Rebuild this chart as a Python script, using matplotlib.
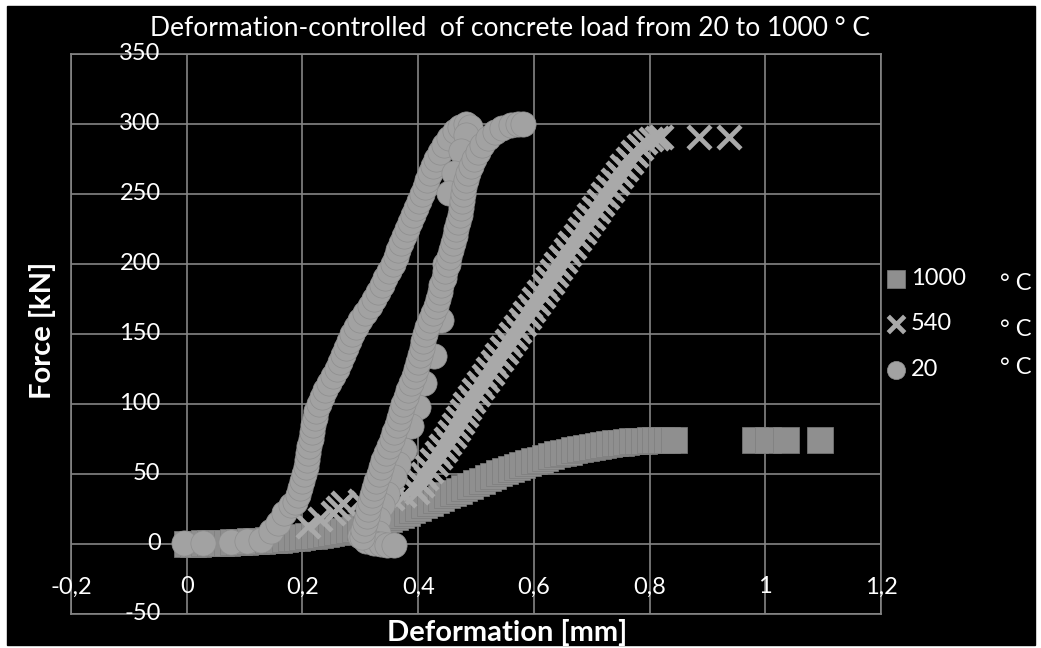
import matplotlib
matplotlib.use("Agg")
import matplotlib.pyplot as plt
from matplotlib.patches import Rectangle

plt.rcParams['font.family'] = ['Lato', 'DejaVu Sans']

# ---- data: deformation [mm] / force [kN] ----
# 20 C: initial seating, first loading, unloading, reloading
x_20 = [-0.005, 0.028, 0.076, 0.105, 0.128, 0.145, 0.157, 0.168, 0.180,
        0.188, 0.192, 0.196, 0.200, 0.203, 0.206, 0.208, 0.210, 0.212, 0.214,
        0.216, 0.218, 0.221, 0.224, 0.228, 0.233, 0.239, 0.246, 0.253, 0.259,
        0.265, 0.270, 0.275, 0.280, 0.285, 0.292, 0.300, 0.308, 0.316, 0.323,
        0.330, 0.337, 0.343, 0.350, 0.356, 0.361, 0.366, 0.371, 0.376, 0.381,
        0.386, 0.391, 0.396, 0.401, 0.406, 0.411, 0.416, 0.421, 0.426, 0.431,
        0.437, 0.445, 0.453, 0.463, 0.473, 0.483,
        0.490, 0.482, 0.474, 0.462, 0.453, 0.447, 0.440, 0.427, 0.410, 0.399,
        0.387, 0.375, 0.365, 0.358, 0.347, 0.338, 0.330, 0.330, 0.300, 0.310,
        0.323, 0.335, 0.347, 0.358,
        0.303, 0.305, 0.308, 0.311, 0.314, 0.317, 0.320, 0.324, 0.328, 0.332,
        0.336, 0.340, 0.345, 0.350, 0.355, 0.359, 0.363, 0.367, 0.371, 0.374,
        0.379, 0.383, 0.388, 0.392, 0.396, 0.400, 0.404, 0.407, 0.409, 0.411,
        0.415, 0.420, 0.426, 0.430, 0.434, 0.437, 0.440, 0.444, 0.447, 0.451,
        0.454, 0.457, 0.460, 0.463, 0.466, 0.469, 0.472, 0.474, 0.476, 0.478,
        0.480, 0.483, 0.487, 0.492, 0.497, 0.503, 0.510, 0.520, 0.532, 0.545,
        0.560, 0.572, 0.581]
f_20 = [1, 1, 1.5, 2, 3, 9, 15, 22, 28,
        30, 35, 40, 45, 50, 55, 60, 65, 70, 75,
        80, 85, 90, 95, 100, 105, 110, 115, 120, 125,
        130, 135, 140, 145, 150, 155, 160, 165, 170, 175,
        180, 185, 190, 195, 200, 205, 210, 215, 220, 225,
        230, 235, 240, 245, 250, 255, 260, 265, 270, 275,
        280, 285, 290, 295, 298, 300,
        298, 292, 281, 265, 251, 200, 160, 134, 115, 98,
        84, 67, 57, 48, 36, 28, 18, 8, 6, 2,
        1, 0, -1, -1,
        5, 10, 15, 20, 25, 30, 35, 40, 45, 50,
        55, 60, 65, 70, 75, 80, 85, 90, 95, 100,
        105, 110, 115, 120, 125, 130, 135, 140, 145, 150,
        155, 160, 165, 170, 175, 180, 185, 190, 195, 200,
        205, 210, 215, 220, 225, 230, 235, 240, 245, 250,
        255, 260, 265, 270, 275, 280, 285, 290, 294, 297,
        299, 300, 300]

# 540 C: loading up to the two last readings, then the unloading branch
x_540 = [0.209, 0.230, 0.252, 0.262, 0.270, 0.300, 0.330, 0.355, 0.375,
         0.392, 0.400, 0.408, 0.416, 0.424, 0.432, 0.440, 0.448, 0.455, 0.462,
         0.469, 0.475, 0.481, 0.489, 0.497, 0.505, 0.513, 0.521, 0.529, 0.537,
         0.545, 0.553, 0.561, 0.569, 0.577, 0.585, 0.593, 0.601, 0.609, 0.617,
         0.625, 0.632, 0.639, 0.647, 0.655, 0.663, 0.672, 0.680, 0.688, 0.696,
         0.704, 0.712, 0.720, 0.729, 0.737, 0.745, 0.753, 0.762, 0.772, 0.782,
         0.792, 0.803, 0.812, 0.820, 0.885, 0.937,
         0.785, 0.777, 0.768, 0.759, 0.751, 0.743, 0.735, 0.726, 0.718, 0.710,
         0.702, 0.694, 0.686, 0.678, 0.669, 0.661, 0.653, 0.646, 0.639, 0.631,
         0.623, 0.615, 0.607, 0.599, 0.591, 0.583, 0.575, 0.567, 0.559, 0.551,
         0.543, 0.535, 0.527, 0.519, 0.511, 0.503, 0.495, 0.488, 0.482, 0.476,
         0.469, 0.462, 0.454, 0.446, 0.438, 0.430, 0.422, 0.414, 0.406, 0.398]
f_540 = [13, 18, 22, 26, 29, 31, 32, 33, 35,
         40, 45, 50, 55, 60, 65, 70, 75, 80, 85,
         90, 95, 100, 105, 110, 115, 120, 125, 130, 135,
         140, 145, 150, 155, 160, 165, 170, 175, 180, 185,
         190, 195, 200, 205, 210, 215, 220, 225, 230, 235,
         240, 245, 250, 255, 260, 265, 270, 275, 280, 284,
         287, 289, 290, 291, 291, 291,
         282.5, 277.5, 272.5, 267.5, 262.5, 257.5, 252.5, 247.5, 242.5, 237.5,
         232.5, 227.5, 222.5, 217.5, 212.5, 207.5, 202.5, 197.5, 192.5, 187.5,
         182.5, 177.5, 172.5, 167.5, 162.5, 157.5, 152.5, 147.5, 142.5, 137.5,
         132.5, 127.5, 122.5, 117.5, 112.5, 107.5, 102.5, 97.5, 92.5, 87.5,
         82.5, 77.5, 72.5, 67.5, 62.5, 57.5, 52.5, 47.5, 42.5, 37.5]

# 1000 C
x_1000 = [0.00, 0.01, 0.02, 0.03, 0.04, 0.05, 0.06, 0.07, 0.08, 0.09,
          0.10, 0.11, 0.12, 0.13, 0.14, 0.15, 0.16, 0.17, 0.18, 0.19,
          0.20, 0.21, 0.22, 0.23, 0.24, 0.25, 0.26, 0.27, 0.28, 0.29,
          0.30, 0.31, 0.32, 0.33, 0.34, 0.35, 0.36, 0.37, 0.38, 0.39,
          0.40, 0.41, 0.42, 0.43, 0.44, 0.45, 0.46, 0.47, 0.48, 0.49,
          0.50, 0.51, 0.52, 0.53, 0.54, 0.55, 0.56, 0.57, 0.58, 0.59,
          0.60, 0.61, 0.62, 0.63, 0.64, 0.65, 0.66, 0.67, 0.68, 0.69,
          0.70, 0.71, 0.72, 0.73, 0.74, 0.75, 0.76, 0.77, 0.78, 0.79,
          0.80, 0.81, 0.82, 0.83, 0.842, 0.982, 1.004, 1.035, 1.094]
f_1000 = [0, 0.15, 0.3, 0.45, 0.6, 0.75, 0.9, 1.05, 1.2, 1.4,
          1.6, 1.8, 2.0, 2.3, 2.6, 2.9, 3.2, 3.6, 4.0, 4.5,
          5.0, 5.5, 6.0, 6.6, 7.2, 7.9, 8.6, 9.3, 10, 11,
          12, 13, 14, 15.2, 16.5, 18, 19.5, 21, 22.5, 24.2,
          26, 27.7, 29.5, 31.2, 33, 34.7, 36.5, 38.2, 40, 41.7,
          43.5, 45.2, 47, 48.7, 50.5, 52, 53.5, 55, 56.5, 57.8,
          59, 60.3, 61.5, 62.8, 64, 65, 66, 67, 68, 68.8,
          69.5, 70.3, 71, 71.5, 72, 72.5, 73, 73.3, 73.5, 73.8,
          74, 74, 74, 74, 74, 74, 74, 74, 74]

x_ticks = [-0.2, 0, 0.2, 0.4, 0.6, 0.8, 1.0, 1.2]
x_tick_labels = ['-0,2', '0', '0,2', '0,4', '0,6', '0,8', '1', '1,2']
y_ticks = [-50, 0, 50, 100, 150, 200, 250, 300, 350]
series_names = ['1000', '540', '20']

W, H = 1041, 648
fig = plt.figure(figsize=(W / 100, H / 100), dpi=100, facecolor='white')
fig.patches.append(Rectangle((7 / W, 3 / H), 1028 / W, 639 / H,
                             transform=fig.transFigure, color='black', zorder=-5))

ax = fig.add_axes([71 / W, 34 / H, 810 / W, 560 / H])
ax.set_facecolor('black')
ax.set_xlim(-0.2, 1.2)
ax.set_ylim(-50, 350)
ax.set_xticks(x_ticks)
ax.set_yticks(y_ticks)
ax.grid(True, color='#858585', lw=1.2)
ax.set_axisbelow(True)
ax.tick_params(length=0, labelbottom=False, labelleft=False)
for sp in ax.spines.values():
    sp.set_color('#858585')
    sp.set_linewidth(1.2)

# series, drawn in legend order so the 20 C curve ends up on top
s1000 = ax.scatter(x_1000, f_1000, marker='s', s=350, c='#8f8f8f',
                   edgecolors='#7d7d7d', linewidths=0.5, zorder=3)
s540 = ax.scatter(x_540, f_540, marker='x', s=270, c='#a9a9a9',
                  linewidths=3.4, zorder=4)
s20 = ax.scatter(x_20, f_20, marker='o', s=330, c='#a2a2a2',
                 edgecolors='#8e8e8e', linewidths=0.5, zorder=5)

# tick labels sit along the axes crossing at zero
for v, lab in zip(x_ticks, x_tick_labels):
    ax.text(v, -30.7, lab, ha='center', va='center', color='white', fontsize=17)
for v in y_ticks:
    ax.text(-0.045, v, str(v), ha='right', va='center', color='white', fontsize=17)

fig.text(510 / W, 1 - 28 / H, 'Deformation-controlled  of concrete load from 20 to 1000 ° C',
         ha='center', va='center', color='white', fontsize=19)
fig.text(42 / W, 1 - 330 / H, 'Force [kN]', rotation=90, ha='center', va='center',
         color='white', fontsize=21, fontweight='bold')
fig.text(507 / W, 1 - 633 / H, 'Deformation [mm]', ha='center', va='center',
         color='white', fontsize=21, fontweight='bold')

leg = ax.legend([s1000, s540, s20], series_names, loc='center left',
                bbox_to_anchor=(872 / W, 1 - 324 / H), bbox_transform=fig.transFigure,
                frameon=False, fontsize=17, labelcolor='white', markerscale=0.72,
                handletextpad=0.15, labelspacing=1.05, borderpad=0, handlelength=1.0)

for yy in (283, 330, 368):
    fig.text(1000 / W, 1 - yy / H, '° C', ha='left', va='center', color='white', fontsize=17)

fig.savefig('out.png', dpi=100, facecolor=fig.get_facecolor())
